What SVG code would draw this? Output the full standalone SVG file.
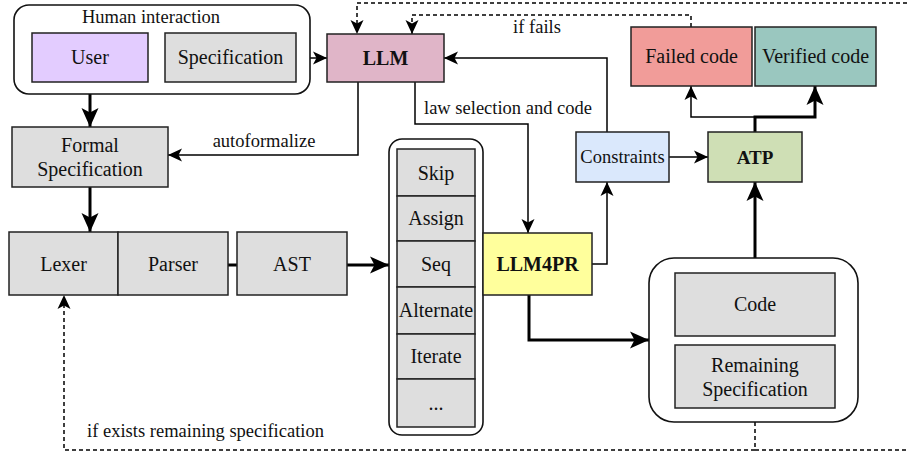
<svg xmlns="http://www.w3.org/2000/svg" width="909" height="453" viewBox="0 0 909 453">
<style>
text{fill:#111;text-anchor:middle}
.t20{font-size:20px}
.t18{font-size:18.5px}
.b{font-weight:bold}
.box{stroke:#222;stroke-width:1.5}
.cont{fill:#fff;stroke:#111;stroke-width:1.6}
.ln{fill:none;stroke:#000;stroke-width:1.5}
.thk{fill:none;stroke:#000;stroke-width:3}
.dsh{fill:none;stroke:#000;stroke-width:1.5;stroke-dasharray:4 3}
.gray{fill:#dedede}
</style>
<defs>
<marker id="a" markerUnits="userSpaceOnUse" markerWidth="14" markerHeight="13" refX="14" refY="6.5" orient="auto" overflow="visible">
<path d="M0,0 L14,6.5 L0,13 L3.5,6.5 Z" fill="#000"/>
</marker>
<marker id="A" markerUnits="userSpaceOnUse" markerWidth="19" markerHeight="17" refX="19" refY="8.5" orient="auto" overflow="visible">
<path d="M0,0 L19,8.5 L0,17 L4.5,8.5 Z" fill="#000"/>
</marker>
</defs>
<g font-family="Liberation Serif, Times New Roman, serif">
<g id="connectors">
<path class="ln" d="M148,58 H165"/>
<path class="ln" d="M296,58 H327" marker-end="url(#a)"/>
<path class="thk" d="M90,82 V127" marker-end="url(#A)"/>
<path class="thk" d="M90,187 V232" marker-end="url(#A)"/>
<path class="ln" d="M358,82 V155 H168" marker-end="url(#a)"/>
<path class="ln" d="M415,82 V124 H528 V233" marker-end="url(#a)"/>
<path class="ln" d="M607,132 V58 H444" marker-end="url(#a)"/>
<path class="ln" d="M592,264 H607 V182" marker-end="url(#a)"/>
<path class="ln" d="M669,157 H708" marker-end="url(#a)"/>
<path class="ln" d="M755,132 V117 H691 V86" marker-end="url(#a)"/>
<path class="thk" d="M755,132 V117 H815 V86" marker-end="url(#A)"/>
<path class="thk" d="M755,273 V182" marker-end="url(#A)"/>
<path class="thk" d="M228,265 H237"/>
<path class="thk" d="M347,265 H389" marker-end="url(#A)"/>
<path class="thk" d="M529,295 V340 H649" marker-end="url(#A)"/>
<path class="dsh" d="M755,408 V450 H64 V295" marker-end="url(#a)"/>
<path class="dsh" d="M755,450 H940 V3 H357 V34" marker-end="url(#a)"/>
<path class="dsh" d="M691,27 V15 H412 V34" marker-end="url(#a)"/>
<text class="t18" x="264" y="147">autoformalize</text>
<text class="t18" x="508" y="114">law selection and code</text>
<text class="t18" x="537" y="33">if fails</text>
<text class="t18" x="205.5" y="437">if exists remaining specification</text>
</g>

<g id="human-interaction">
<rect class="cont" x="14" y="5" width="296" height="89" rx="15"/>
<text x="151" y="23" font-size="18.5">Human interaction</text>
</g>
<g id="user">
<rect class="box" x="32" y="33" width="116" height="49" fill="#e3ccff"/>
<text class="t20" x="90" y="64">User</text>
</g>
<g id="specification">
<rect class="box gray" x="165" y="33" width="131" height="49"/>
<text class="t20" x="230.5" y="64">Specification</text>
</g>
<g id="llm">
<rect class="box" x="327" y="34" width="117" height="48" fill="#e0b5c8"/>
<text class="t20 b" x="385.5" y="65">LLM</text>
</g>
<g id="formal-specification">
<rect class="box gray" x="12" y="127" width="156" height="60"/>
<text class="t20" x="90" y="152">Formal</text>
<text class="t20" x="90" y="176">Specification</text>
</g>
<g id="lexer">
<rect class="box gray" x="9" y="232" width="109" height="63"/>
<text class="t20" x="63.5" y="271">Lexer</text>
</g>
<g id="parser">
<rect class="box gray" x="118" y="232" width="110" height="63"/>
<text class="t20" x="173" y="271">Parser</text>
</g>
<g id="ast">
<rect class="box gray" x="237" y="232" width="110" height="63"/>
<text class="t20" x="292" y="271">AST</text>
</g>
<g id="laws">
<rect class="cont" x="389" y="139" width="94" height="296" rx="13"/>
<rect class="box gray" x="397" y="149" width="78" height="47"/>
<rect class="box gray" x="397" y="196" width="78" height="45"/>
<rect class="box gray" x="397" y="241" width="78" height="46"/>
<rect class="box gray" x="397" y="287" width="78" height="47"/>
<rect class="box gray" x="397" y="334" width="78" height="45"/>
<rect class="box gray" x="397" y="379" width="78" height="48"/>
<text class="t20" x="436" y="180">Skip</text>
<text class="t20" x="436" y="225">Assign</text>
<text class="t20" x="436" y="271">Seq</text>
<text class="t20" x="436" y="317">Alternate</text>
<text class="t20" x="436" y="363">Iterate</text>
<text class="t20" x="436" y="410">...</text>
</g>
<g id="llm4pr">
<rect class="box" x="483" y="233" width="109" height="62" fill="#ffff9c"/>
<text class="t20 b" x="537.5" y="271">LLM4PR</text>
</g>
<g id="constraints">
<rect class="box" x="576" y="132" width="93" height="50" fill="#dae8fc"/>
<text class="t18" x="622.5" y="163">Constraints</text>
</g>
<g id="atp">
<rect class="box" x="708" y="132" width="94" height="50" fill="#cfdfb5"/>
<text class="b" x="755" y="164" font-size="19">ATP</text>
</g>
<g id="failed-code">
<rect class="box" x="631" y="27" width="121" height="59" fill="#f19c99"/>
<text class="t20" x="691.5" y="63">Failed code</text>
</g>
<g id="verified-code">
<rect class="box" x="755" y="27" width="121" height="59" fill="#9ac7bf"/>
<text class="t20" x="815.5" y="63">Verified code</text>
</g>
<g id="result">
<rect class="cont" x="649" y="258" width="209" height="164" rx="25"/>
</g>
<g id="code">
<rect class="box gray" x="675" y="273" width="160" height="63"/>
<text class="t20" x="755" y="311">Code</text>
</g>
<g id="remaining-specification">
<rect class="box gray" x="675" y="345" width="160" height="63"/>
<text class="t20" x="755" y="372">Remaining</text>
<text class="t20" x="755" y="396">Specification</text>
</g>
</g>
</svg>
